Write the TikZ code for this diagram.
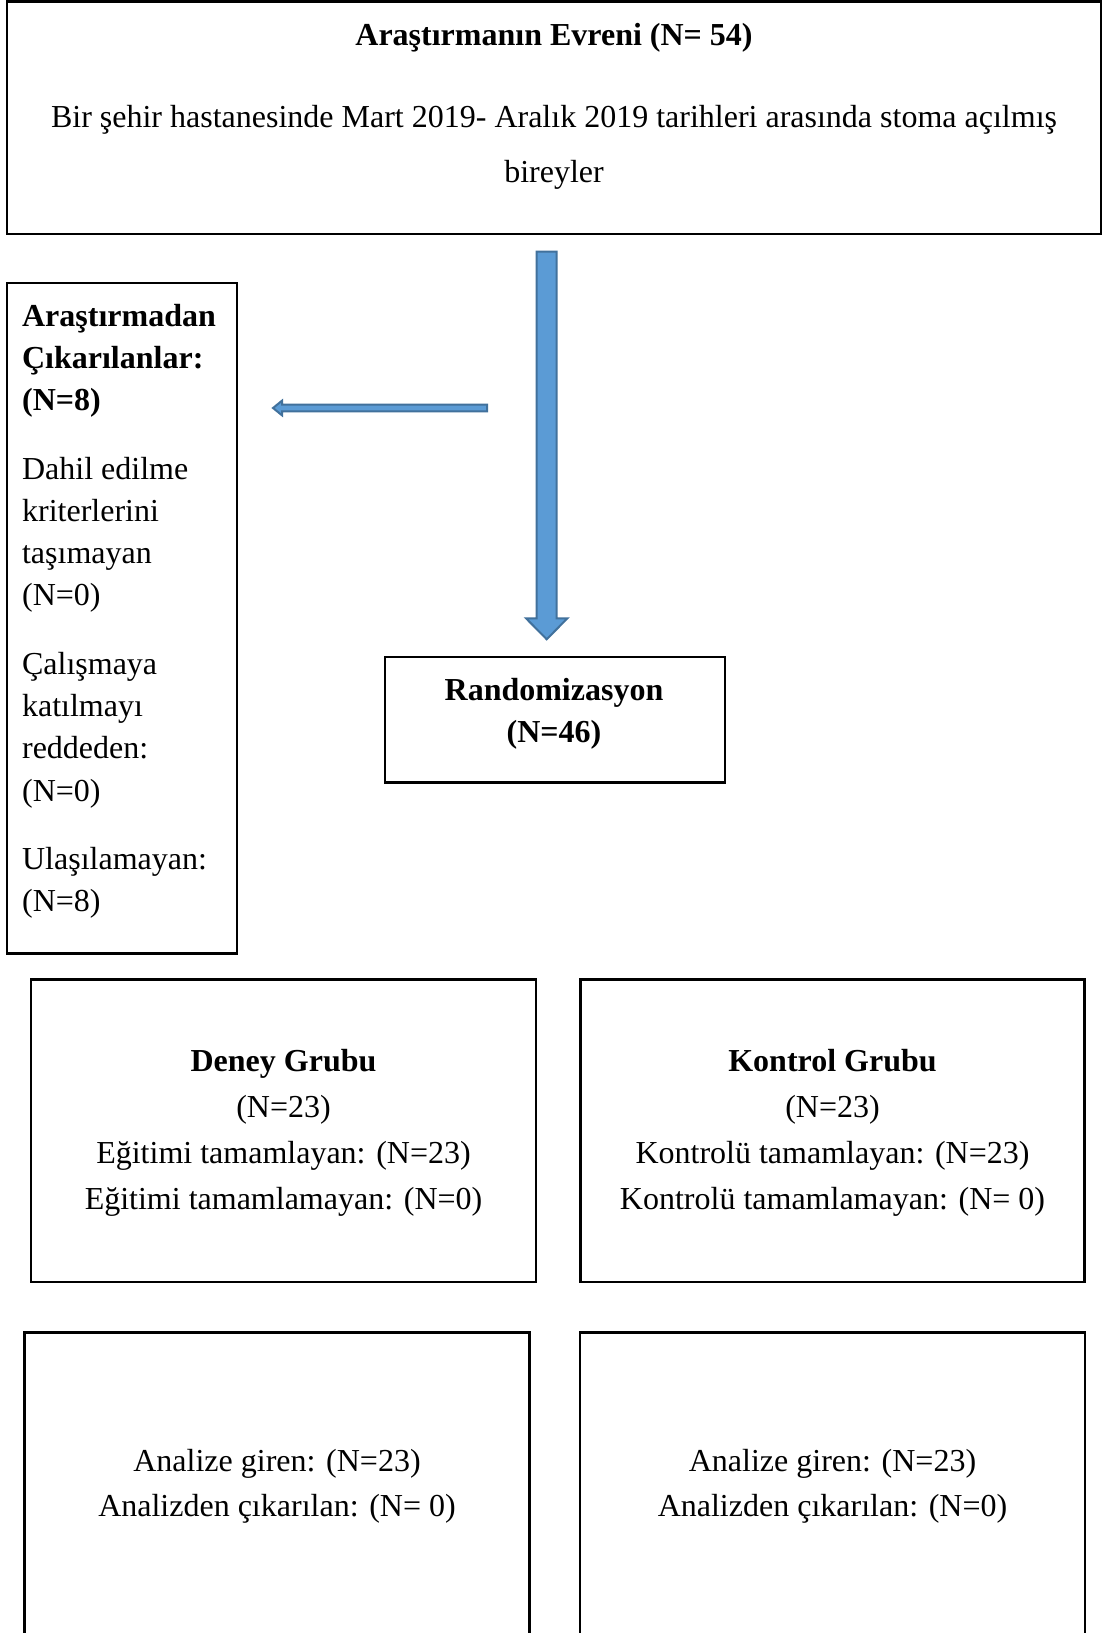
\documentclass[tikz,border=0pt]{standalone}
\usepackage{fontspec}
\setmainfont{Liberation Serif}
\usetikzlibrary{fit,calc}
\definecolor{arrowfill}{HTML}{5B9BD5}
\definecolor{arrowline}{HTML}{41719C}
\begin{document}
\begin{tikzpicture}[x=0.5pt,y=-0.5pt,
  box/.style={draw=black,line width=1.2pt,inner sep=0pt},
  txt/.style={anchor=base,inner sep=0pt,font=\fontsize{16pt}{19pt}\selectfont},
  txtb/.style={anchor=base,inner sep=0pt,font=\fontsize{16pt}{19pt}\selectfont\bfseries},
  lft/.style={anchor=base west},
  blockarrow/.style={fill=arrowfill,draw=arrowline,line width=1pt,line join=miter}]
\fill[white] (0,0) rectangle (1103,1633);
\useasboundingbox (0,0) rectangle (1103,1633);

% boxes
\node[box,fit={(7,1.5)(1101,234)}] (evren) {};
\node[box,fit={(7,282.7)(237,953.5)}] (cikan) {};
\node[box,fit={(385,657)(725,782.5)}] (random) {};
\node[box,fit={(31,979.5)(536,1282)}] (deney) {};
\node[box,fit={(580.5,979.5)(1084.5,1282)}] (kontrol) {};
\node[box,fit={(24.5,1332.5)(529.5,1645)}] (analiz1) {};
\node[box,fit={(580,1332.5)(1085,1645)}] (analiz2) {};

% top box text
\node[txtb] (evrenT) at (554,45) {Araştırmanın Evreni (N= 54)};
\node[txt] (evrenA) at (554,127) {Bir şehir hastanesinde Mart 2019- Aralık 2019 tarihleri arasında stoma açılmış};
\node[txt] (evrenB) at (554,182) {bireyler};

% left box text
\node[txtb,lft] (c1) at (21.7,326) {Araştırmadan};
\node[txtb,lft] (c2) at (21.7,368.2) {Çıkarılanlar:};
\node[txtb,lft] (c3) at (21.7,410.4) {(N=8)};
\node[txt,lft] (c4) at (21.7,479.1) {Dahil edilme};
\node[txt,lft] (c5) at (21.7,521.3) {kriterlerini};
\node[txt,lft] (c6) at (21.7,563.5) {taşımayan};
\node[txt,lft] (c7) at (21.7,605.7) {(N=0)};
\node[txt,lft] (c8) at (21.7,674.4) {Çalışmaya};
\node[txt,lft] (c9) at (21.7,716.6) {katılmayı};
\node[txt,lft] (c10) at (21.7,758.8) {reddeden:};
\node[txt,lft] (c11) at (21.7,801) {(N=0)};
\node[txt,lft] (c12) at (21.7,869.7) {Ulaşılamayan:};
\node[txt,lft] (c13) at (21.7,911.9) {(N=8)};

% randomization text
\node[txtb] (r1) at (554,700) {Randomizasyon};
\node[txtb] (r2) at (554,742) {(N=46)};

% group texts
\node[txtb] (d1) at (283.5,1071) {Deney Grubu};
\node[txt] (d2) at (283.5,1117) {(N=23)};
\node[txt] (d3) at (283.5,1163) {Eğitimi tamamlayan: (N=23)};
\node[txt] (d4) at (283.5,1209) {Eğitimi tamamlamayan: (N=0)};

\node[txtb] (k1) at (832.5,1071) {Kontrol Grubu};
\node[txt] (k2) at (832.5,1117) {(N=23)};
\node[txt] (k3) at (832.5,1163) {Kontrolü tamamlayan: (N=23)};
\node[txt] (k4) at (832.5,1209) {Kontrolü tamamlamayan: (N= 0)};

\node[txt] (a1) at (277,1471) {Analize giren: (N=23)};
\node[txt] (a2) at (277,1516) {Analizden çıkarılan: (N= 0)};
\node[txt] (b1) at (832.5,1471) {Analize giren: (N=23)};
\node[txt] (b2) at (832.5,1516) {Analizden çıkarılan: (N=0)};

% block arrows
\coordinate (vtop) at (546.7,251.7);
\coordinate (vtip) at (546.7,639.3);
\draw[blockarrow] ($(vtop)+(-10,0)$) -- ($(vtip)+(-10,-21)$) -- ($(vtip)+(-20.7,-21)$) -- (vtip)
  -- ($(vtip)+(20.7,-21)$) -- ($(vtip)+(10,-21)$) -- ($(vtop)+(10,0)$) -- cycle;

\coordinate (hstart) at (487,408);
\coordinate (htip) at (273,408);
\draw[blockarrow] ($(hstart)+(0,-3.3)$) -- ($(htip)+(9,-3.3)$) -- ($(htip)+(9,-7.3)$) -- (htip)
  -- ($(htip)+(9,7.3)$) -- ($(htip)+(9,3.3)$) -- ($(hstart)+(0,3.3)$) -- cycle;
\end{tikzpicture}
\end{document}
